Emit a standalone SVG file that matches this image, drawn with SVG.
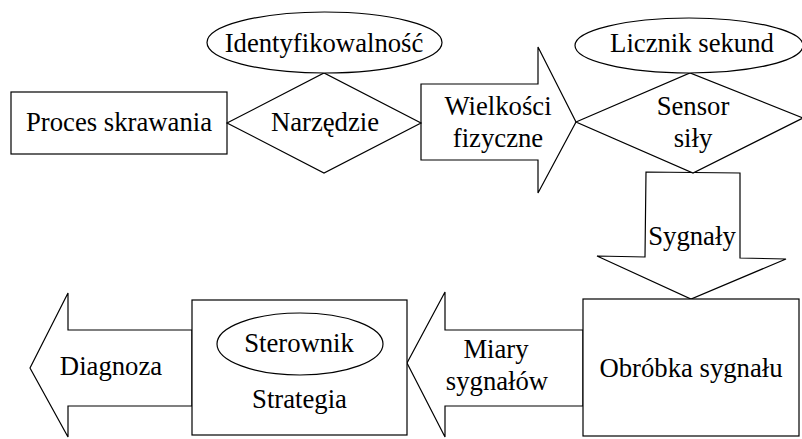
<svg xmlns="http://www.w3.org/2000/svg" width="802" height="439" viewBox="0 0 802 439">
<rect width="802" height="439" fill="#fff"/>
<g id="connectors" fill="#fff" stroke="#000" stroke-width="1.2">
<polygon id="a-wielkosci" points="421,84 538,84 538,47 576,122 538,193 538,160 421,160"/>
<polygon id="a-sygnaly" points="646,172 740,173 740,258 786,259 691,299 597,256 645,257"/>
<polygon id="a-miary" points="583,330 445,330 445,292 407,363 445,437 445,406 583,406"/>
<polygon id="a-diagnoza" points="192,330 68,330 68,293 30,368 68,437 68,406 192,406"/>
</g>
<g id="connector-labels" text-anchor="middle" fill="#000">
<text style="font-family:'Liberation Serif',serif;font-size:26.7px" x="498" y="115">Wielkości</text>
<text style="font-family:'Liberation Serif',serif;font-size:26.7px" x="498" y="147">fizyczne</text>
<text style="font-family:'Liberation Serif',serif;font-size:26.7px" x="692" y="245">Sygnały</text>
<text style="font-family:'Liberation Serif',serif;font-size:26.7px" x="496" y="358">Miary</text>
<text style="font-family:'Liberation Serif',serif;font-size:26.7px" x="497" y="390">sygnałów</text>
<text style="font-family:'Liberation Serif',serif;font-size:26.7px" x="111" y="375">Diagnoza</text>
</g>
<g id="proces" text-anchor="middle">
<rect fill="#fff" stroke="#000" stroke-width="1.2" x="11" y="92" width="216" height="62"/>
<text style="font-family:'Liberation Serif',serif;font-size:26.7px" x="119" y="131">Proces skrawania</text>
</g>
<g id="narzedzie" text-anchor="middle">
<polygon fill="#fff" stroke="#000" stroke-width="1.2" points="227,123 324,73 421,123 324,173"/>
<text style="font-family:'Liberation Serif',serif;font-size:26.7px" x="325" y="131">Narzędzie</text>
</g>
<g id="identyfikowalnosc" text-anchor="middle">
<ellipse fill="#fff" stroke="#000" stroke-width="1.2" cx="324.5" cy="42.5" rx="117.5" ry="30.5"/>
<text style="font-family:'Liberation Serif',serif;font-size:26.7px" x="324" y="52">Identyfikowalność</text>
</g>
<g id="sensor" text-anchor="middle">
<polygon fill="#fff" stroke="#000" stroke-width="1.2" points="576,122 690,73 803,118 693,173"/>
<text style="font-family:'Liberation Serif',serif;font-size:26.7px" x="693" y="115">Sensor</text>
<text style="font-family:'Liberation Serif',serif;font-size:26.7px" x="693" y="147">siły</text>
</g>
<g id="licznik" text-anchor="middle">
<ellipse fill="#fff" stroke="#000" stroke-width="1.2" cx="689" cy="45.5" rx="114" ry="27.5"/>
<text style="font-family:'Liberation Serif',serif;font-size:26.7px" x="692" y="52">Licznik sekund</text>
</g>
<g id="obrobka" text-anchor="middle">
<rect fill="#fff" stroke="#000" stroke-width="1.2" x="583" y="299" width="216" height="137"/>
<text style="font-family:'Liberation Serif',serif;font-size:26.7px" x="691" y="377">Obróbka sygnału</text>
</g>
<g id="strategia" text-anchor="middle">
<rect fill="#fff" stroke="#000" stroke-width="1.2" x="192" y="300" width="215" height="135"/>
<text style="font-family:'Liberation Serif',serif;font-size:26.7px" x="299.5" y="408">Strategia</text>
</g>
<g id="sterownik" text-anchor="middle">
<ellipse fill="#fff" stroke="#000" stroke-width="1.2" cx="300" cy="344" rx="83" ry="31"/>
<text style="font-family:'Liberation Serif',serif;font-size:26.7px" x="299" y="352">Sterownik</text>
</g>
</svg>
